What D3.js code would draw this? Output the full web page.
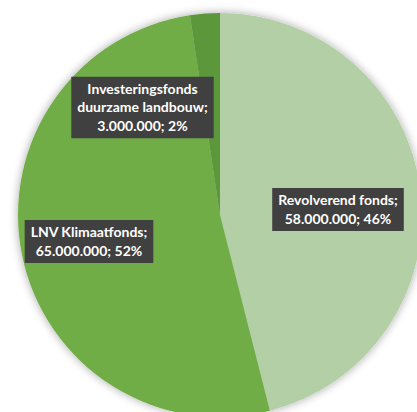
<html>
<head>
  <script src="https://d3js.org/d3.v7.min.js"></script>
  <style>
    body { margin: 0; background: #fff; }
    svg { display: block; }
    .lbl { font-family: Lato, "Open Sans", sans-serif; font-weight: bold; font-size: 14px; fill: #fff; }
  </style>
</head>
<body>
<svg id="chart" width="417" height="412"></svg>
<script>
var categories = ["Revolverend fonds", "LNV Klimaatfonds", "Investeringsfonds duurzame landbouw"];
var values = [58000000, 65000000, 3000000];
var percents = ["46%", "52%", "2%"];
var colors = ["#b3cfa5", "#70ad47", "#5c983a"];

// label lines, as Excel wrapped them
var labelLines = [
  ["Revolverend fonds;", "58.000.000; 46%"],
  ["LNV Klimaatfonds;", "65.000.000; 52%"],
  ["Investeringsfonds", "duurzame landbouw;", "3.000.000; 2%"]
];
// label centres (relative to pie centre)
var labelPos = [[118, -5.5], [-131, 26.5], [-77.5, -107.5]];

var width = 417, height = 412;
var cx = 220, cy = 215, r = 202;

var svg = d3.select("#chart");

var defs = svg.append("defs");
var f = defs.append("filter").attr("id", "shadow")
  .attr("x", "-20%").attr("y", "-20%").attr("width", "140%").attr("height", "140%");
f.append("feGaussianBlur").attr("in", "SourceAlpha").attr("stdDeviation", 5);
f.append("feOffset").attr("dx", 0).attr("dy", 0).attr("result", "blur");
f.append("feComponentTransfer").append("feFuncA").attr("type", "linear").attr("slope", 0.35);
var m = f.append("feMerge");
m.append("feMergeNode");
m.append("feMergeNode").attr("in", "SourceGraphic");

var pie = d3.pie().sort(null).value(function(d) { return d; });
var arc = d3.arc().innerRadius(0).outerRadius(r);

var g = svg.append("g").attr("transform", "translate(" + cx + "," + cy + ")");

g.append("g").attr("filter", "url(#shadow)")
  .selectAll("path")
  .data(pie(values))
  .enter()
  .append("path")
    .attr("d", arc)
    .style("fill", function(d, i) { return colors[i]; });

var lineH = 18.5;
var labels = g.selectAll(".label")
  .data(labelLines)
  .enter()
  .append("g")
    .attr("transform", function(d, i) { return "translate(" + labelPos[i][0] + "," + labelPos[i][1] + ")"; });

labels.each(function(lines) {
  var lg = d3.select(this);
  var rect = lg.append("rect").style("fill", "#404040");
  var t = lg.append("text").attr("class", "lbl").attr("text-anchor", "middle");
  var y0 = -(lines.length - 1) * lineH / 2;
  lines.forEach(function(s, k) {
    t.append("tspan").attr("x", 0).attr("y", y0 + k * lineH).attr("dy", "0.35em").text(s);
  });
  var bb = t.node().getBBox();
  var padX = 6, padY = 3;
  rect.attr("x", bb.x - padX).attr("y", -lines.length * lineH / 2 - padY)
    .attr("width", bb.width + 2 * padX).attr("height", lines.length * lineH + 2 * padY);
});
</script>
</body>
</html>
